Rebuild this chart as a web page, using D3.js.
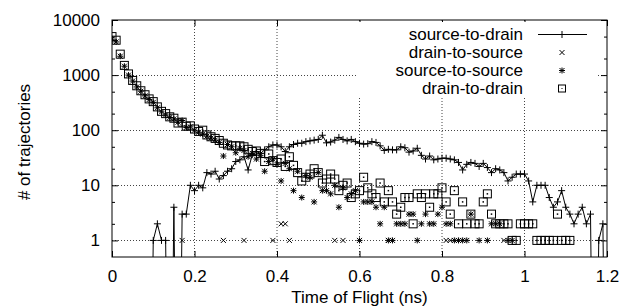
<!DOCTYPE html>
<html>
<head>
<meta charset="utf-8">
<script src="https://cdn.jsdelivr.net/npm/d3@7"></script>
<style>
  body { margin: 0; background: #fff; }
  svg text { font-family: "Liberation Sans", Arial, sans-serif; font-size: 17px; fill: #000; }
</style>
</head>
<body>
<svg id="chart" width="636" height="308"></svg>
<script>
// histogram bins, 0.01 ns wide, starting at t = 0
const binWidth = 0.01;

const sourceToDrain = [
  0, 0, 0, 0, 0, 0, 0, 0, 0, 0,
  1, 2, 1, 1, 0, 4, 0, 3, 3, 10,
  8, 10, 9, 17, 16, 18, 13, 15, 18, 20,
  27, 29, 33, 19, 36, 41, 38, 44, 50, 54,
  54, 50, 41, 50, 55, 58, 58, 62, 64, 66,
  68, 81, 59, 61, 66, 74, 68, 64, 68, 62,
  58, 56, 57, 62, 60, 52, 43, 45, 44, 44,
  50, 48, 40, 42, 47, 35, 30, 34, 29, 30,
  31, 31, 30, 29, 26, 19, 24, 26, 25, 22,
  25, 21, 17, 20, 19, 17, 12, 14, 16, 16,
  16, 12, 5, 10, 10, 10, 6, 4, 5, 8,
  4, 3, 2, 3, 4, 2, 3, 0, 1, 2,
  0
];

const drainToSource = [
  0, 0, 0, 0, 0, 0, 0, 0, 0, 0,
  0, 0, 0, 0, 0, 0, 0, 1, 0, 0,
  0, 0, 0, 0, 0, 0, 0, 1, 0, 0,
  0, 0, 1, 0, 0, 0, 0, 0, 0, 1,
  0, 2, 2, 1, 0, 0, 0, 0, 0, 0,
  0, 0, 0, 0, 1, 0, 1, 0, 0, 0,
  0, 0, 0, 0, 0, 0, 0, 1, 0, 0,
  0, 0, 0, 0, 0, 0, 0, 0, 0, 0,
  0, 1, 1, 0, 0, 0, 0, 0, 0, 0,
  0, 0, 0, 0, 0, 1, 0, 0, 0, 0,
  0, 0, 0, 0, 0, 0, 0, 0, 0, 0,
  0, 0, 0, 0, 0, 0, 0, 0, 0, 0,
  0
];

const sourceToSource = [
  4500, 4000, 2200, 1450, 1000, 780, 610, 510, 420, 360,
  320, 255, 215, 190, 170, 160, 140, 150, 112, 115,
  100, 92, 85, 78, 72, 66, 60, 34, 55, 50,
  39, 47, 43, 33, 38, 30, 35, 18, 27, 30,
  24, 12, 25, 20, 8, 18, 6, 15, 14, 5,
  17, 8, 8, 7, 10, 4, 9, 6, 7, 8,
  1, 5, 5, 5, 4, 2, 4, 1, 1, 2,
  2, 2, 3, 3, 1, 2, 3, 2, 2, 3,
  4, 2, 2, 1, 1, 1, 1, 3, 0, 1,
  0, 1, 2, 2, 2, 0, 1, 1, 0, 0,
  0, 0, 0, 0, 0, 0, 0, 0, 0, 0,
  0, 0, 0, 0, 0, 0, 0, 0, 0, 0,
  0
];

const drainToDrain = [
  5000, 4300, 2400, 1500, 1050, 800, 640, 520, 440, 370,
  330, 265, 220, 200, 175, 165, 135, 140, 118, 120,
  105, 95, 100, 82, 76, 71, 65, 58, 54, 52,
  52, 52, 50, 45, 41, 42, 38, 27, 37, 28,
  26, 30, 22, 33, 23, 17, 12, 14, 16, 20,
  17, 11, 13, 16, 13, 8, 10, 11, 6, 7,
  8, 14, 9, 7, 6, 11, 5, 8, 5, 3,
  4, 6, 6, 2, 7, 6, 7, 4, 7, 7,
  9, 5, 3, 8, 2, 5, 2, 3, 2, 2,
  5, 7, 3, 2, 2, 2, 2, 1, 1, 2,
  2, 2, 2, 1, 1, 1, 1, 1, 3, 1,
  1, 1, 0, 0, 0, 0, 0, 0, 0, 0,
  0
];

const seriesNames = ['source-to-drain', 'drain-to-source', 'source-to-source', 'drain-to-drain'];
const xTicks = [0, 0.2, 0.4, 0.6, 0.8, 1, 1.2];
const yTicks = [1, 10, 100, 1000, 10000];
const yMinorTicks = [2, 5, 20, 50, 200, 500, 2000, 5000];

const svg = d3.select('#chart');
const width = 636;
const height = 308;
const margin = { top: 20, right: 29, bottom: 51, left: 112 };
const plotBottom = height - margin.bottom;
const plotRight = width - margin.right;

const x = d3.scaleLinear().domain([0, 1.2]).range([margin.left, plotRight]);
const y = d3.scaleLog().domain([0.5, 10000]).range([plotBottom, margin.top]);

// empty bins go far below the axis so the line drops straight down
const yFloor = 1e-6;

function toPoints(values) {
  return values.map((v, i) => ({ t: i * binWidth, v }));
}

svg.append('defs').append('clipPath').attr('id', 'plot-clip')
  .append('rect')
  .attr('x', margin.left).attr('y', margin.top)
  .attr('width', plotRight - margin.left).attr('height', plotBottom - margin.top);

// grid
const grid = svg.append('g').attr('stroke', '#444').attr('stroke-width', 1).attr('stroke-dasharray', '1,2');
grid.selectAll('line.gx')
  .data(xTicks.filter((d) => d > 0 && d < 1.2))
  .join('line')
  .attr('x1', (d) => x(d)).attr('x2', (d) => x(d))
  .attr('y1', margin.top).attr('y2', plotBottom);
grid.selectAll('line.gy')
  .data(yTicks.filter((d) => d < 10000))
  .join('line')
  .attr('x1', margin.left).attr('x2', plotRight)
  .attr('y1', (d) => Math.round(y(d)) + 0.5).attr('y2', (d) => Math.round(y(d)) + 0.5);

// axes with inward ticks on all four sides
const fmt = (d) => String(d);
svg.append('g')
  .attr('transform', `translate(0,${plotBottom})`)
  .call(d3.axisBottom(x).tickValues(xTicks).tickFormat(fmt).tickSizeInner(-6).tickSizeOuter(0).tickPadding(13))
  .call((g) => g.select('.domain').remove())
  .call((g) => g.selectAll('text').style('font-size', '17px').style('font-family', '"Liberation Sans", Arial, sans-serif'));

svg.append('g')
  .attr('transform', `translate(0,${margin.top})`)
  .call(d3.axisTop(x).tickValues(xTicks).tickFormat('').tickSizeInner(-6).tickSizeOuter(0))
  .call((g) => g.select('.domain').remove());

svg.append('g')
  .attr('transform', `translate(${margin.left},0)`)
  .call(d3.axisLeft(y).tickValues(yTicks).tickFormat(fmt).tickSizeInner(-6).tickSizeOuter(0).tickPadding(12))
  .call((g) => g.select('.domain').remove())
  .call((g) => g.selectAll('text').style('font-size', '17px').style('font-family', '"Liberation Sans", Arial, sans-serif'));

svg.append('g')
  .attr('transform', `translate(${margin.left},0)`)
  .call(d3.axisLeft(y).tickValues(yMinorTicks).tickFormat('').tickSizeInner(-3).tickSizeOuter(0))
  .call((g) => g.select('.domain').remove());

svg.append('g')
  .attr('transform', `translate(${plotRight},0)`)
  .call(d3.axisRight(y).tickValues(yTicks).tickFormat('').tickSizeInner(-6).tickSizeOuter(0))
  .call((g) => g.select('.domain').remove());

svg.append('g')
  .attr('transform', `translate(${plotRight},0)`)
  .call(d3.axisRight(y).tickValues(yMinorTicks).tickFormat('').tickSizeInner(-3).tickSizeOuter(0))
  .call((g) => g.select('.domain').remove());

svg.selectAll('.tick line').attr('stroke', '#000');

// markers
const plusPath = 'M-3.5,0H3.5M0,-3.5V3.5';
const crossPath = 'M-2.5,-2.5L2.5,2.5M-2.5,2.5L2.5,-2.5';
const starPath = 'M-3,0H3M0,-3V3' + crossPath;
const half = 4;

function drawSymbols(layer, values, shape) {
  const pts = toPoints(values).filter((d) => d.v > 0);
  const g = layer.append('g');
  if (shape === 'square') {
    const s = g.selectAll('g').data(pts).join('g')
      .attr('transform', (d) => `translate(${x(d.t)},${y(d.v)})`);
    s.append('rect').attr('x', -half).attr('y', -half).attr('width', 2 * half).attr('height', 2 * half)
      .attr('fill', 'none').attr('stroke', '#000').attr('stroke-width', 1);
    s.append('rect').attr('x', -0.75).attr('y', -0.75).attr('width', 1.5).attr('height', 1.5).attr('fill', '#000');
  } else {
    g.selectAll('path').data(pts).join('path')
      .attr('transform', (d) => `translate(${x(d.t)},${y(d.v)})`)
      .attr('d', shape)
      .attr('fill', 'none').attr('stroke', '#000').attr('stroke-width', 1);
  }
}

const dataLayer = svg.append('g').attr('clip-path', 'url(#plot-clip)');

const line = d3.line()
  .x((d) => x(d.t))
  .y((d) => y(Math.max(d.v, yFloor)));

dataLayer.append('path')
  .datum(toPoints(sourceToDrain))
  .attr('d', line)
  .attr('fill', 'none').attr('stroke', '#000').attr('stroke-width', 1);

drawSymbols(dataLayer, sourceToDrain, plusPath);
drawSymbols(dataLayer, drainToSource, crossPath);
drawSymbols(dataLayer, sourceToSource, starPath);
drawSymbols(dataLayer, drainToDrain, 'square');

// border
svg.append('rect')
  .attr('x', margin.left).attr('y', margin.top)
  .attr('width', plotRight - margin.left).attr('height', plotBottom - margin.top)
  .attr('fill', 'none').attr('stroke', '#000').attr('stroke-width', 1);

// key (opaque)
const key = svg.append('g');
key.append('rect').attr('x', 357).attr('y', 22).attr('width', 241).attr('height', 76).attr('fill', '#fff');
const keyShapes = [plusPath, crossPath, starPath, 'square'];
seriesNames.forEach((name, i) => {
  const cy = 34 + i * 18;
  key.append('text').attr('x', 523).attr('y', cy).attr('dy', '0.35em')
    .attr('text-anchor', 'end').text(name);
  if (i === 0) {
    key.append('line').attr('x1', 538).attr('x2', 587).attr('y1', cy + 0.5).attr('y2', cy + 0.5)
      .attr('stroke', '#000').attr('stroke-width', 1);
  }
  const g = key.append('g').attr('transform', `translate(562,${cy + 0.5})`);
  if (keyShapes[i] === 'square') {
    g.append('rect').attr('x', -3.5).attr('y', -3.5).attr('width', 7).attr('height', 7)
      .attr('fill', 'none').attr('stroke', '#000');
    g.append('rect').attr('x', -0.5).attr('y', -0.5).attr('width', 1).attr('height', 1).attr('fill', '#000');
  } else {
    g.append('path').attr('d', keyShapes[i]).attr('fill', 'none').attr('stroke', '#000');
  }
});

// axis titles
svg.append('text')
  .attr('x', (margin.left + plotRight) / 2).attr('y', 303)
  .attr('text-anchor', 'middle')
  .text('Time of Flight (ns)');

svg.append('text')
  .attr('transform', 'translate(30,142) rotate(-90)')
  .attr('text-anchor', 'middle')
  .text('# of trajectories');
</script>
</body>
</html>
